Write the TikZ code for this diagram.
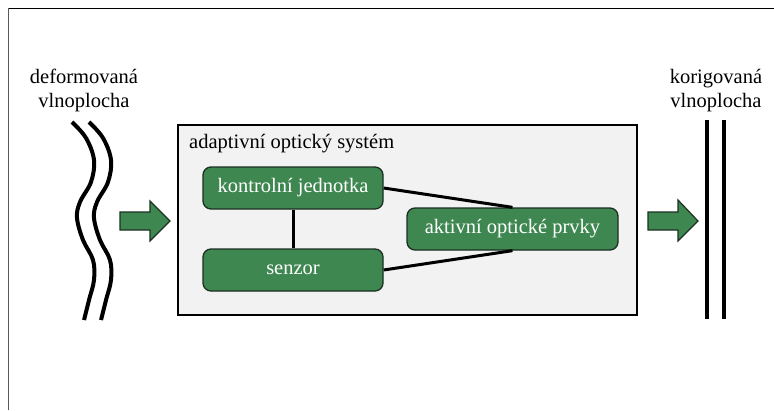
\documentclass[tikz,border=0pt]{standalone}
\usepackage{fontspec}
\setmainfont{Liberation Serif}
\begin{document}
\begin{tikzpicture}[x=1pt,y=-1pt,
  every node/.style={font=\fontsize{20.5}{24}\selectfont, inner sep=0pt},
  blok/.style={draw=blokedge, fill=blokgreen, line width=1.3pt, rounded corners=8pt,
    text=white, minimum height=42pt},
  spoj/.style={line width=3pt, draw=black},
  vlna/.style={line width=4pt, line cap=butt},
  sipka/.style={draw=blokedge, fill=blokgreen, line width=1.2pt, line join=miter},
  popis/.style={anchor=base, text=black}]
\definecolor{blokgreen}{RGB}{62,135,80}
\definecolor{blokedge}{RGB}{28,48,34}
\definecolor{sysfill}{RGB}{242,242,242}
\useasboundingbox (0,0) rectangle (774,410);
\fill[white] (0,0) rectangle (774,410);
% outer frame (top and left edges)
\draw[line width=1.2pt, black] (8,8.5) -- (774,8.5);
\draw[line width=1.5pt, black!65] (8.5,8) -- (8.5,410);

% incoming distorted wavefront
\node[popis] (def1) at (84,83) {deformovaná};
\node[popis] (def2) at (84,107) {vlnoplocha};
\foreach \dx in {0,17}{
  \draw[vlna, xshift=\dx] plot[smooth, tension=0.6] coordinates
    {(72,122) (86,138) (94,160) (91,182) (80,202) (77,218) (83,240) (93,260) (94,280) (89,300) (84,320)};
}

% block arrow into the system
\filldraw[sipka] (120,212) -- (150,212) -- (150,201) -- (170,221) -- (150,241) -- (150,230) -- (120,230) -- cycle;

% adaptive optics system
\node[draw=black, line width=2.2pt, fill=sysfill, minimum width=459pt, minimum height=190pt]
  (sys) at (407.5,220) {};
\node[anchor=base west] (systitle) at (189,148) {adaptivní optický systém};

\node[blok, minimum width=180pt] (kon) at (293,188) {kontrolní jednotka};
\node[blok, minimum width=180pt] (sen) at (293,270) {senzor};
\node[blok, minimum width=211pt] (akt) at (512.5,229) {aktivní optické prvky};

\draw[spoj] (kon.south) -- (sen.north);
\draw[spoj] (kon.east) -- (akt.north);
\draw[spoj] (sen.east) -- (akt.south);

% block arrow out of the system
\filldraw[sipka] (648,212) -- (678,212) -- (678,200) -- (698,221) -- (678,241) -- (678,230) -- (648,230) -- cycle;

% corrected flat wavefront
\node[popis] (kor1) at (716,83) {korigovaná};
\node[popis] (kor2) at (716,107) {vlnoplocha};
\draw[vlna] (707,120) -- (707,319);
\draw[vlna] (724,120) -- (724,319);
\end{tikzpicture}
\end{document}
